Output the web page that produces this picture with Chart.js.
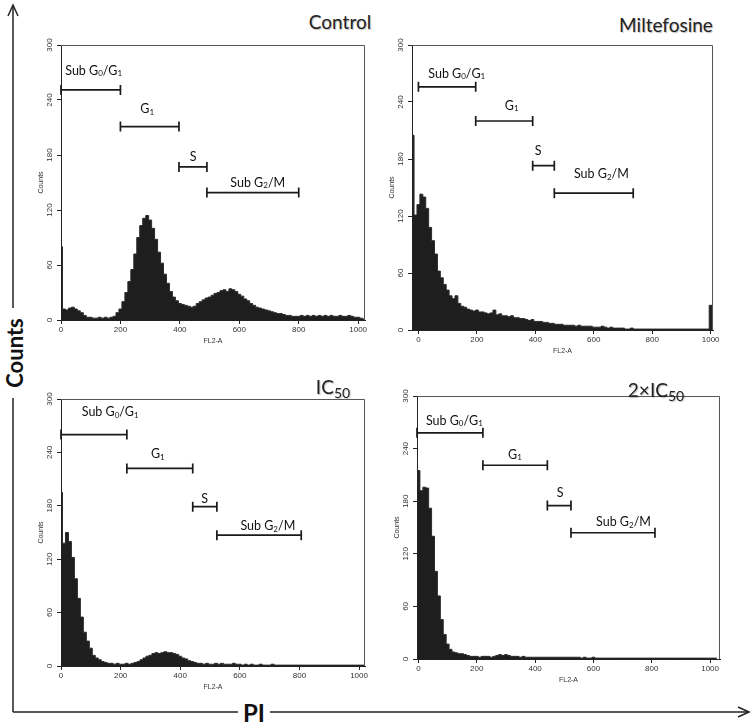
<!DOCTYPE html>
<html>
<head>
<meta charset="utf-8">
<script src="https://cdn.jsdelivr.net/npm/chart.js@4.4.1/dist/chart.umd.min.js"></script>
<style>
  html, body { margin: 0; padding: 0; background: #fff; }
  #stage { position: relative; width: 754px; height: 725px; overflow: hidden; font-family: Lato, "Open Sans", sans-serif; }
  .panel { position: absolute; }
  .ptitle { position: absolute; font-size: 19px; line-height: 20px; color: #222; white-space: nowrap;
            transform: translateX(-50%); text-shadow: 1px 1px 1px rgba(0,0,0,0.25); }
  .ptitle sub { font-size: 14px; vertical-align: -4px; line-height: 0; }
</style>
</head>
<body>
<div id="stage">
  <svg width="754" height="725" style="position:absolute;left:0;top:0">
    <line x1="13" y1="5" x2="13" y2="712" stroke="#222" stroke-width="1.5"/>
    <polyline points="8,16 13,5 18,16" fill="none" stroke="#222" stroke-width="1.5"/>
    <line x1="13" y1="712" x2="749" y2="712" stroke="#222" stroke-width="1.5"/>
    <polyline points="738,707 749,712 738,717" fill="none" stroke="#222" stroke-width="1.5"/>
    <rect x="2" y="308" width="24" height="90" fill="#fff"/>
    <rect x="238" y="698" width="32" height="26" fill="#fff"/>
    <text x="14" y="353" transform="rotate(-90 14 353)" text-anchor="middle" dominant-baseline="central"
          font-family="Lato, sans-serif" font-weight="bold" font-size="22" fill="#111">Counts</text>
    <text x="254" y="712" text-anchor="middle" dominant-baseline="central"
          font-family="Lato, sans-serif" font-weight="bold" font-size="24" fill="#111">PI</text>
  </svg>
</div>
<script>
// histogram bins (FL2-A channel where each bin starts); last bin ends at 1023
const binStarts = [-20, -15, -5];
for (let c = 5; c <= 1015; c += 10) binStarts.push(c);
const binEnd = 1023;

const xTickValues = [0, 200, 400, 600, 800, 1000];
const yTickValues = [0, 60, 120, 180, 240, 300];

const controlCounts = [0, 0, 80,
  12, 11, 13, 14, 12, 10, 8, 5, 3, 3,
  2, 2, 3, 2, 3, 2, 3, 4, 8, 12,
  20, 30, 42, 55, 72, 90, 103, 111, 114, 109,
  100, 88, 74, 62, 50, 40, 31, 25, 21, 18,
  17, 16, 15, 14, 15, 18, 20, 22, 24, 25,
  27, 29, 30, 32, 33, 31, 34, 33, 31, 28,
  26, 23, 21, 18, 16, 14, 13, 12, 11, 10,
  9, 8, 7, 7, 6, 5, 5, 4, 4, 4,
  5, 4, 5, 4, 5, 4, 5, 4, 5, 4,
  5, 4, 4, 5, 4, 4, 5, 4, 3, 3,
  2, 1];

const miltefosineCounts = [205, 121, 132,
  143, 140, 128, 108, 94, 80, 62, 55, 48, 42,
  36, 33, 36, 28, 25, 24, 22, 21, 20, 21,
  19, 19, 18, 17, 18, 21, 16, 17, 15, 15,
  14, 15, 13, 13, 12, 12, 11, 10, 11, 9,
  9, 9, 8, 8, 7, 7, 6, 6, 6, 5,
  5, 5, 5, 4, 5, 4, 4, 4, 4, 3,
  3, 3, 4, 3, 2, 3, 2, 2, 2, 2,
  1, 1, 2, 1, 1, 1, 1, 1, 1, 1,
  1, 1, 1, 1, 1, 1, 1, 1, 1, 1,
  1, 1, 1, 1, 1, 1, 1, 1, 1, 26,
  0, 0];

const ic50Counts = [0, 0, 195,
  138, 150, 140, 122, 98, 76, 55, 38, 28, 20,
  12, 9, 7, 5, 4, 3, 3, 2, 3, 2,
  2, 3, 2, 3, 4, 5, 7, 9, 11, 12,
  14, 15, 14, 15, 16, 15, 15, 14, 13, 11,
  9, 8, 6, 5, 4, 3, 3, 2, 3, 2,
  2, 3, 2, 3, 2, 2, 2, 3, 2, 2,
  1, 2, 1, 2, 1, 1, 2, 1, 1, 1,
  2, 1, 1, 1, 1, 1, 1, 1, 1, 1,
  1, 1, 1, 1, 1, 1, 1, 1, 1, 1,
  1, 1, 1, 1, 1, 1, 1, 1, 1, 1,
  1, 1];

const ic50x2Counts = [0, 0, 215,
  192, 196, 195, 172, 140, 100, 72, 45, 28, 17,
  11, 8, 7, 6, 6, 5, 4, 3, 3, 3,
  2, 3, 3, 3, 2, 3, 4, 5, 4, 5,
  4, 3, 3, 3, 2, 3, 2, 2, 2, 2,
  2, 2, 2, 2, 2, 2, 2, 2, 2, 2,
  2, 2, 2, 2, 2, 1, 2, 1, 1, 2,
  1, 1, 1, 1, 1, 1, 1, 1, 1, 1,
  1, 1, 1, 1, 1, 1, 1, 1, 1, 1,
  1, 1, 1, 1, 1, 1, 1, 1, 1, 1,
  1, 1, 1, 1, 1, 1, 1, 1, 1, 1,
  1, 1];

// marker gates: channel range, count level of the bar, label anchor (channel, count)
const controlGates = [
  { label: 'Sub G_0/G_1', from: 0, to: 200, level: 251, lx: 110, ly: 272 },
  { label: 'G_1', from: 200, to: 397, level: 211, lx: 290, ly: 230 },
  { label: 'S', from: 397, to: 491, level: 167, lx: 445, ly: 178 },
  { label: 'Sub G_2/M', from: 491, to: 800, level: 139, lx: 662, ly: 150 }
];
const miltefosineGates = [
  { label: 'Sub G_0/G_1', from: 0, to: 196, level: 256, lx: 131, ly: 270 },
  { label: 'G_1', from: 196, to: 391, level: 220, lx: 319, ly: 236 },
  { label: 'S', from: 391, to: 465, level: 173, lx: 410, ly: 188 },
  { label: 'Sub G_2/M', from: 465, to: 735, level: 144, lx: 626, ly: 164 }
];
const ic50Gates = [
  { label: 'Sub G_0/G_1', from: 0, to: 221, level: 260, lx: 165, ly: 285 },
  { label: 'G_1', from: 221, to: 442, level: 222, lx: 325, ly: 238 },
  { label: 'S', from: 442, to: 523, level: 179, lx: 482, ly: 188 },
  { label: 'Sub G_2/M', from: 523, to: 806, level: 147, lx: 694, ly: 157 }
];
const ic50x2Gates = [
  { label: 'Sub G_0/G_1', from: -5, to: 221, level: 258, lx: 123, ly: 272 },
  { label: 'G_1', from: 221, to: 442, level: 221, lx: 331, ly: 233 },
  { label: 'S', from: 442, to: 523, level: 175, lx: 486, ly: 189 },
  { label: 'Sub G_2/M', from: 523, to: 811, level: 144, lx: 703, ly: 156 }
];

const panels = [
  { title: 'Control', counts: controlCounts, gates: controlGates,
    area: [61, 45, 365, 320], xMin: 0, xMax: 1023, titleAt: [340, 22] },
  { title: 'Miltefosine', counts: miltefosineCounts, gates: miltefosineGates,
    area: [412, 45, 713, 330], xMin: -22, xMax: 1008, titleAt: [666, 25] },
  { title: 'IC<sub>50</sub>', counts: ic50Counts, gates: ic50Gates,
    area: [61, 399, 365, 666], xMin: 0, xMax: 1020, titleAt: [333, 387] },
  { title: '2×IC<sub>50</sub>', counts: ic50x2Counts, gates: ic50x2Gates,
    area: [417, 396, 720, 659], xMin: -5, xMax: 1034, titleAt: [656, 390] }
];

// text with "_x" meaning subscript x
function drawRich(ctx, text, cx, cy) {
  let parts = [];
  for (let i = 0; i < text.length; i++) {
    if (text[i] === '_') { parts.push({ t: text[i + 1], sub: true }); i++; }
    else if (parts.length && !parts[parts.length - 1].sub) parts[parts.length - 1].t += text[i];
    else parts.push({ t: text[i], sub: false });
  }
  const big = '12.5px Lato', small = '8px Lato';
  let w = 0;
  parts.forEach(p => {
    ctx.font = p.sub ? small : big;
    p.w = ctx.measureText(p.t).width;
    w += p.w;
  });
  let x = cx - w / 2;
  ctx.textAlign = 'left';
  ctx.textBaseline = 'middle';
  ctx.fillStyle = '#111';
  parts.forEach(p => {
    ctx.font = p.sub ? small : big;
    ctx.fillText(p.t, x, cy + (p.sub ? 3 : 0));
    x += p.w;
  });
}

const gatePlugin = {
  id: 'gateMarks',
  afterDraw(chart, args, opts) {
    const { ctx, chartArea: a, scales: { x, y } } = chart;
    ctx.save();
    // top and right side of the box
    ctx.strokeStyle = '#555';
    ctx.lineWidth = 1;
    ctx.beginPath();
    ctx.moveTo(a.left, a.top + 0.5);
    ctx.lineTo(a.right - 0.5, a.top + 0.5);
    ctx.lineTo(a.right - 0.5, a.bottom);
    ctx.stroke();

    ctx.strokeStyle = '#1a1a1a';
    ctx.lineWidth = 1.7;
    opts.gates.forEach(g => {
      const x1 = x.getPixelForValue(g.from);
      const x2 = x.getPixelForValue(g.to);
      const yy = y.getPixelForValue(g.level);
      ctx.beginPath();
      ctx.moveTo(x1, yy); ctx.lineTo(x2, yy);
      ctx.moveTo(x1, yy - 5); ctx.lineTo(x1, yy + 5);
      ctx.moveTo(x2, yy - 5); ctx.lineTo(x2, yy + 5);
      ctx.stroke();
      drawRich(ctx, g.label, x.getPixelForValue(g.lx), y.getPixelForValue(g.ly));
    });
    ctx.restore();
  }
};

const stage = document.getElementById('stage');
const smallFont = { family: 'Liberation Sans', size: 8 };

panels.forEach(p => {
  const [l, t, r, b] = p.area;
  const left = l - 24, top = t - 8;
  const w = r + 12 - left, h = b + 25 - top;

  const box = document.createElement('div');
  box.className = 'panel';
  box.style.left = left + 'px';
  box.style.top = top + 'px';
  const canvas = document.createElement('canvas');
  canvas.width = w;
  canvas.height = h;
  box.appendChild(canvas);
  stage.appendChild(box);

  const title = document.createElement('div');
  title.className = 'ptitle';
  title.innerHTML = p.title;
  title.style.left = p.titleAt[0] + 'px';
  title.style.top = (p.titleAt[1] - 10) + 'px';
  stage.appendChild(title);

  let pts = binStarts.map((s, i) => ({ x: s, y: p.counts[i] }));
  pts.push({ x: binEnd, y: p.counts[p.counts.length - 1] });

  new Chart(canvas, {
    type: 'line',
    data: {
      datasets: [{
        data: pts,
        stepped: true,
        fill: 'origin',
        backgroundColor: '#1e1e1e',
        borderColor: '#2c2c2c',
        borderWidth: 1,
        pointRadius: 0
      }]
    },
    options: {
      responsive: false,
      animation: false,
      layout: { padding: { top: 8, right: 12, left: 0, bottom: 0 } },
      plugins: {
        legend: { display: false },
        tooltip: { enabled: false },
        gateMarks: { gates: p.gates }
      },
      scales: {
        x: {
          type: 'linear',
          min: p.xMin,
          max: p.xMax,
          afterBuildTicks: s => { s.ticks = xTickValues.map(v => ({ value: v })); },
          afterFit: s => { s.height = 25; },
          grid: { drawOnChartArea: false, drawTicks: true, tickLength: 4, color: '#222' },
          border: { display: true, color: '#222', width: 1 },
          ticks: { font: smallFont, color: '#333', padding: 1, maxRotation: 0, autoSkip: false,
                   callback: v => String(v) },
          title: { display: true, text: 'FL2-A', font: { family: 'Liberation Sans', size: 7 }, color: '#333', padding: 0 }
        },
        y: {
          min: 0,
          max: 300,
          afterBuildTicks: s => { s.ticks = yTickValues.map(v => ({ value: v })); },
          afterFit: s => { s.width = 24; },
          grid: { drawOnChartArea: false, drawTicks: true, tickLength: 4, color: '#222' },
          border: { display: true, color: '#222', width: 1 },
          ticks: { font: smallFont, color: '#333', padding: 1, minRotation: 90, maxRotation: 90, crossAlign: 'center',
                   callback: v => String(v) },
          title: { display: true, text: 'Counts', font: { family: 'Liberation Sans', size: 7 }, color: '#333', padding: 0 }
        }
      }
    },
    plugins: [gatePlugin]
  });
});
</script>
</body>
</html>
